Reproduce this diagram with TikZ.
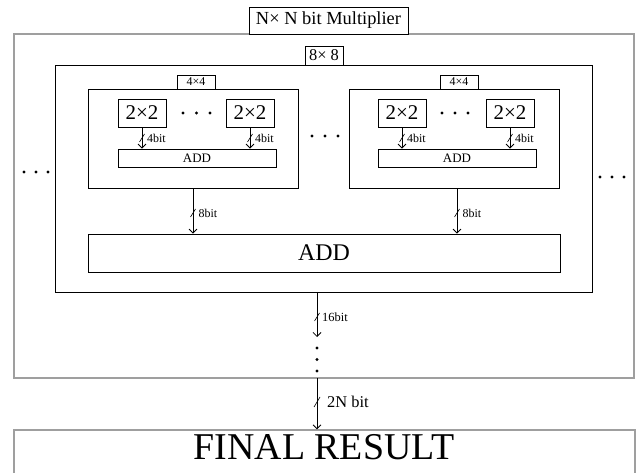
\documentclass[tikz,border=0pt]{standalone}
\usepackage{fontspec}
\setmainfont{Liberation Serif}
\usetikzlibrary{arrows.meta}
\newcommand\fsz[1]{\fontsize{#1}{#1}\selectfont}
\begin{document}
\begin{tikzpicture}[x=1bp,y=-1bp,
  box/.style={draw, line width=0.8bp, inner sep=0pt},
  obox/.style={draw=gray!75, line width=1.3bp, inner sep=0pt},
  arr/.style={line width=0.8bp, -{Straight Barb[length=4bp,width=8bp]}},
  slash/.style={line width=0.6bp},
  lbl/.style={inner sep=0pt, anchor=west},
  dotc/.style={fill=black}]
\useasboundingbox (0,0) rectangle (637,473);
% outer box and title
\node[obox, minimum width=620bp, minimum height=344bp] (outer) at (324,206) {};
\node[box, fill=white, minimum width=159bp, minimum height=27bp, font=\fsz{18.5}] (title) at (328.5,20.5) {N× N bit Multiplier};
% 8x8
\node[box, minimum width=537bp, minimum height=227bp] (box8) at (323.5,178.5) {};
\node[box, fill=white, minimum width=38bp, minimum height=19bp, font=\fsz{16.5}] (lab8) at (324,55.5) {8× 8};
% 4x4 boxes
\node[box, minimum width=210bp, minimum height=99bp] (box4L) at (193,138.5) {};
\node[box, minimum width=210bp, minimum height=99bp] (box4R) at (454,138.5) {};
\node[box, fill=white, minimum width=38bp, minimum height=14bp, font=\fsz{12}] (lab4L) at (196,82) {4×4};
\node[box, fill=white, minimum width=38bp, minimum height=14bp, font=\fsz{12}] (lab4R) at (459,82) {4×4};
% 2x2 boxes
\node[box, minimum width=48bp, minimum height=28bp, font=\fsz{21}] (mL1) at (142,113) {2×2};
\node[box, minimum width=48bp, minimum height=28bp, font=\fsz{21}] (mL2) at (250,113) {2×2};
\node[box, minimum width=48bp, minimum height=28bp, font=\fsz{21}] (mR1) at (402,113) {2×2};
\node[box, minimum width=48bp, minimum height=28bp, font=\fsz{21}] (mR2) at (510,113) {2×2};
% small adders
\node[box, minimum width=158bp, minimum height=18bp, font=\fsz{13}] (addL) at (197,158) {ADD};
\node[box, minimum width=158bp, minimum height=18bp, font=\fsz{13}] (addR) at (457,158) {ADD};
% big adder
\node[box, minimum width=472bp, minimum height=38bp, font=\fsz{24}] (addB) at (324,253) {ADD};
% final
\node[obox, minimum width=621bp, minimum height=46bp] (final) at (324.5,453) {};
\node[inner sep=0pt, font=\fsz{38}] (finalT) at (324,447) {FINAL RESULT};
% 4bit arrows
\draw[arr] (mL1.south) -- (mL1.south |- addL.north);
\draw[arr] (mL2.south) -- (mL2.south |- addL.north);
\draw[arr] (mR1.south) -- (mR1.south |- addR.north);
\draw[arr] (mR2.south) -- (mR2.south |- addR.north);
\foreach \x/\n in {142/a,250/b,402/c,510/d}{
  \draw[slash] (\x-2.5,142) -- (\x+2.5,134);
  \node[lbl, font=\fsz{12}] (l4\n) at (\x+5,138) {4bit};
}
% 8bit arrows
\draw[arr] (box4L.south) -- (box4L.south |- addB.north);
\draw[arr] ([xshift=3bp]box4R.south) -- ([xshift=3bp]box4R.south |- addB.north);
\foreach \x/\n in {193/a,457/b}{
  \draw[slash] (\x-2.5,217) -- (\x+2.5,209);
  \node[lbl, font=\fsz{12}] (l8\n) at (\x+5.5,213) {8bit};
}
% 16bit
\coordinate (s16) at (317,292);
\coordinate (e16) at (317,337);
\draw[arr] (s16) -- (e16);
\draw[slash] (314.5,321) -- (319.5,313);
\node[lbl, font=\fsz{12.5}] (l16) at (322,317) {16bit};
\foreach \y in {348,359.5,371}{ \fill[dotc] (317,\y) circle[radius=1.6bp]; }
% 2N bit
\coordinate (s2n) at (317,378);
\draw[arr] (s2n) -- (s2n |- final.north);
\draw[slash] (314,407) -- (320,397);
\node[lbl, font=\fsz{16.5}] (l2n) at (327,402) {2N bit};
% dots
\foreach \x in {24,36,48}{ \fill[dotc] (\x,172) circle[radius=1.6bp]; }
\foreach \x in {600,612,624}{ \fill[dotc] (\x,177) circle[radius=1.6bp]; }
\foreach \x in {312,325,338}{ \fill[dotc] (\x,136) circle[radius=1.6bp]; }
\foreach \x in {183,196.5,210}{ \fill[dotc] (\x,113) circle[radius=1.6bp]; }
\foreach \x in {442,455,468}{ \fill[dotc] (\x,113) circle[radius=1.6bp]; }
\end{tikzpicture}
\end{document}
